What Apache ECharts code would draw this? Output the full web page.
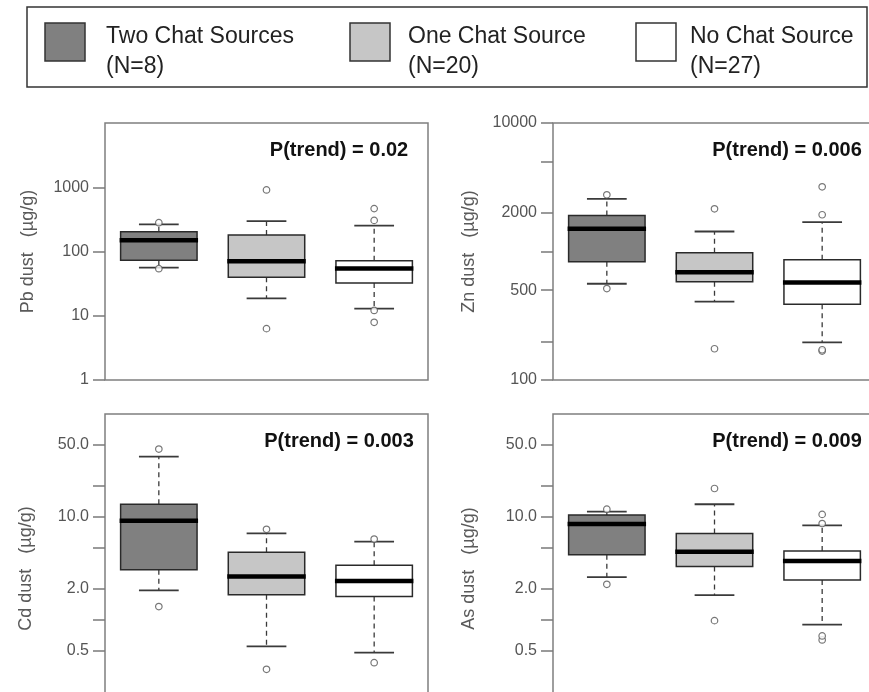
<!DOCTYPE html>
<html><head><meta charset="utf-8">
<script src="https://cdn.jsdelivr.net/npm/echarts@6/dist/echarts.min.js"></script>
<style>html,body{margin:0;padding:0;background:#fff}#chart{width:869px;height:692px}</style>
</head><body><div id="chart"></div>
<script>
// ---------- data ----------
const groups = ['Two Chat Sources', 'One Chat Source', 'No Chat Source'];
const groupN = [8, 20, 27];
const metals = ['Pb', 'Zn', 'Cd', 'As'];
const pTrend = ['0.02', '0.006', '0.003', '0.009'];

// [lower whisker, Q1, median, Q3, upper whisker] per group
const pbStats = [[56, 73, 149, 203, 264], [18.7, 39.7, 70.6, 180, 298], [12.9, 32.4, 54.2, 71.5, 252]];
const znStats = [[561, 832, 1502, 1905, 2571], [408, 581, 690, 977, 1431], [196, 389, 574, 862, 1690]];
const cdStats = [[1.94, 3.08, 9.22, 13.3, 38.6], [0.555, 1.76, 2.64, 4.54, 6.95], [0.482, 1.69, 2.39, 3.40, 5.77]];
const asStats = [[2.61, 4.31, 8.55, 10.45, 11.3], [1.74, 3.30, 4.61, 6.9, 13.3], [0.90, 2.44, 3.74, 4.68, 8.3]];

// outlying points per group
const pbOutliers = [[54, 281], [6.3, 908], [7.9, 12.1, 305, 465]];
const znOutliers = [[515, 2762], [175, 2149], [168, 172, 1932, 3187]];
const cdOutliers = [[1.35, 45.7], [0.332, 7.6], [0.385, 6.11]];
const asOutliers = [[2.22, 11.9], [0.986, 18.9], [0.64, 0.70, 8.63, 10.6]];

// axis ranges, tick values and labelled values
const pbRange = [1, 10000];
const znRange = [100, 10000];
const cdRange = [0.1, 100];
const asRange = [0.1, 100];
const pbTicks = [1, 10, 100, 1000];
const pbLabels = [1, 10, 100, 1000];
const znTicks = [100, 200, 500, 1000, 2000, 5000, 10000];
const znLabels = [100, 500, 2000, 10000];
const cdTicks = [0.5, 1, 2, 5, 10, 20, 50];
const cdLabels = [0.5, 2, 10, 50];
const asTicks = [0.5, 1, 2, 5, 10, 20, 50];
const asLabels = [0.5, 2, 10, 50];

// ---------- layout / style ----------
const allStats = [pbStats, znStats, cdStats, asStats];
const allOutliers = [pbOutliers, znOutliers, cdOutliers, asOutliers];
const allRanges = [pbRange, znRange, cdRange, asRange];
const allTicks = [pbTicks, znTicks, cdTicks, asTicks];
const allLabels = [pbLabels, znLabels, cdLabels, asLabels];
const decimals = [0, 0, 1, 1];
const nameGaps = [68, 75, 70, 75];
const fills = ['#808080', '#c6c6c6', '#ffffff'];
const grids = [
  {left: 105, top: 123, width: 323, height: 257},
  {left: 553, top: 123, width: 323, height: 257},
  {left: 105, top: 414, width: 323, height: 309},
  {left: 553, top: 414, width: 323, height: 309}
];
const FONT = '"Liberation Sans", Arial, sans-serif';

function renderBox(params, api) {
  const g = api.value(0);
  const x = api.coord([g, api.value(3)])[0];
  const band = api.coord([1, 1])[0] - api.coord([0, 1])[0];
  const boxW = band * 0.71;
  const capW = boxW * 0.52;
  const yLow = api.coord([g, api.value(1)])[1];
  const yQ1 = api.coord([g, api.value(2)])[1];
  const yMed = api.coord([g, api.value(3)])[1];
  const yQ3 = api.coord([g, api.value(4)])[1];
  const yHigh = api.coord([g, api.value(5)])[1];
  const wStyle = {stroke: '#3a3a3a', lineWidth: 1.3, lineDash: [5, 4]};
  const cStyle = {stroke: '#3a3a3a', lineWidth: 1.8};
  return {
    type: 'group',
    children: [
      {type: 'line', shape: {x1: x, y1: yQ3, x2: x, y2: yHigh}, style: wStyle},
      {type: 'line', shape: {x1: x, y1: yQ1, x2: x, y2: yLow}, style: wStyle},
      {type: 'line', shape: {x1: x - capW / 2, y1: yHigh, x2: x + capW / 2, y2: yHigh}, style: cStyle},
      {type: 'line', shape: {x1: x - capW / 2, y1: yLow, x2: x + capW / 2, y2: yLow}, style: cStyle},
      {type: 'rect', shape: {x: x - boxW / 2, y: yQ3, width: boxW, height: yQ1 - yQ3},
        style: {fill: fills[g], stroke: '#2a2a2a', lineWidth: 1.5}},
      {type: 'line', shape: {x1: x - boxW / 2 - 1, y1: yMed, x2: x + boxW / 2 + 1, y2: yMed},
        style: {stroke: '#000', lineWidth: 4.5}}
    ]
  };
}

const xAxis = [], yAxis = [], series = [];
grids.forEach((gr, i) => {
  xAxis.push({
    type: 'category', gridIndex: i, data: groups, boundaryGap: true,
    axisLine: {show: false}, axisTick: {show: false}, axisLabel: {show: false}, splitLine: {show: false}
  });
  yAxis.push({
    type: 'log', logBase: 10, gridIndex: i, min: allRanges[i][0], max: allRanges[i][1],
    name: metals[i] + ' dust   (\u00b5g/g)', nameLocation: 'middle', nameGap: nameGaps[i],
    nameTextStyle: {fontSize: 18, color: '#5a5a5a', fontFamily: FONT},
    axisLine: {show: false}, splitLine: {show: false}, minorTick: {show: false},
    axisTick: {show: true, inside: false, length: 12, customValues: allTicks[i],
      lineStyle: {color: '#7a7a7a', width: 1.5}},
    axisLabel: {show: true, customValues: allLabels[i], margin: 16, fontSize: 16, color: '#555',
      fontFamily: FONT, formatter: v => Number(v).toFixed(decimals[i])}
  });
  series.push({
    type: 'custom', xAxisIndex: i, yAxisIndex: i, renderItem: renderBox,
    encode: {x: 0, y: [1, 2, 3, 4, 5]}, z: 2,
    data: allStats[i].map((s, g) => [g].concat(s))
  });
  const pts = [];
  allOutliers[i].forEach((arr, g) => arr.forEach(v => pts.push([g, v])));
  series.push({
    type: 'scatter', xAxisIndex: i, yAxisIndex: i, symbol: 'circle', symbolSize: 6.5, z: 3,
    itemStyle: {color: '#fff', borderColor: '#555', borderWidth: 1.2},
    data: pts
  });
});

const graphic = [
  {type: 'rect', shape: {x: 27, y: 7, width: 840, height: 80},
    style: {fill: 'none', stroke: '#333', lineWidth: 1.5}, silent: true}
];
const swatchX = [45, 350, 636];
const textX = [106, 408, 690];
groups.forEach((name, g) => {
  graphic.push({type: 'rect', shape: {x: swatchX[g], y: 23, width: 40, height: 38},
    style: {fill: fills[g], stroke: '#333', lineWidth: 1.5}, silent: true});
  graphic.push({type: 'text', x: textX[g], y: 52,
    style: {text: name + '\n(N=' + groupN[g] + ')', font: '23px ' + FONT, fill: '#222',
      verticalAlign: 'middle', lineHeight: 30}, silent: true});
});
const pCenters = [[339, 150], [787, 150], [339, 441], [787, 441]];
pTrend.forEach((p, i) => {
  graphic.push({type: 'text', x: pCenters[i][0], y: pCenters[i][1],
    style: {text: 'P(trend) = ' + p, font: 'bold 20px ' + FONT, fill: '#111',
      align: 'center', verticalAlign: 'middle'}, silent: true});
});

const chart = echarts.init(document.getElementById('chart'), null, {renderer: 'canvas'});
chart.setOption({
  animation: false,
  backgroundColor: '#fff',
  grid: grids.map(g => Object.assign({show: true, borderColor: '#7f7f7f', borderWidth: 1.5,
    backgroundColor: 'transparent', containLabel: false, outerBoundsMode: 'none'}, g)),
  xAxis: xAxis,
  yAxis: yAxis,
  series: series,
  graphic: graphic
});
</script></body></html>
